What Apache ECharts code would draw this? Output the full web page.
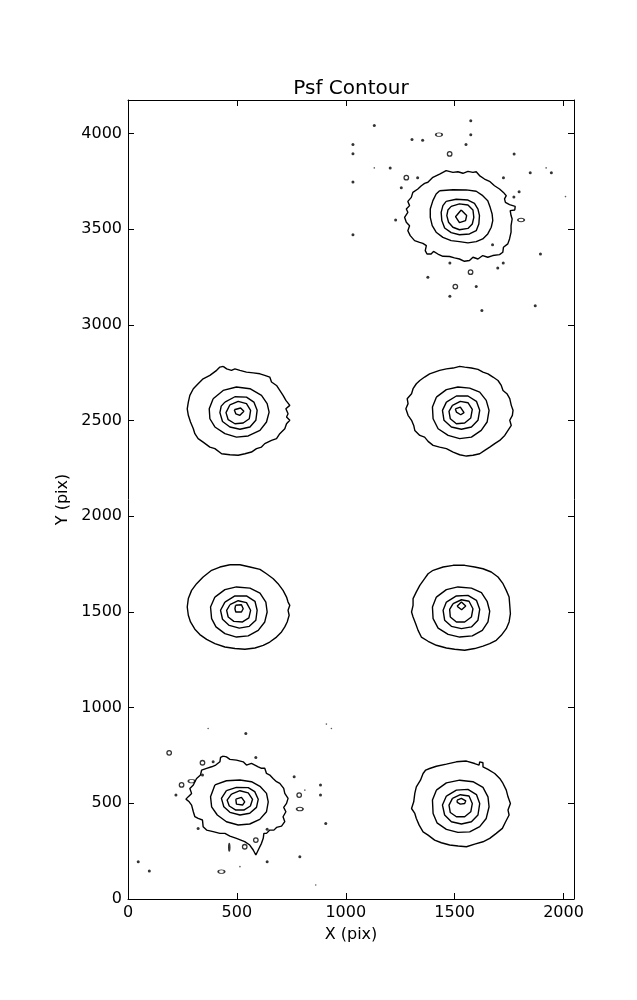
<!DOCTYPE html>
<html>
<head>
<meta charset="utf-8">
<script src="https://cdn.jsdelivr.net/npm/echarts@6/dist/echarts.min.js"></script>
<style>html,body{margin:0;padding:0;background:#fff}#chart{width:637px;height:1000px}</style>
</head>
<body>
<div id="chart"></div>
<script>
// ---- axis settings (data units) ----
const xTicks = [0, 500, 1000, 1500, 2000];
const yTicks = [0, 500, 1000, 1500, 2000, 2500, 3000, 3500, 4000];
const xMax = 2048;
const yMax = 4176;

// ---- PSF A (top right) contours, outer -> inner ----
const psfA_1 = [[1431,3789],[1461,3807],[1492,3798],[1515,3801],[1538,3793],[1561,3803],[1584,3798],[1599,3801],[1614,3781],[1637,3763],[1660,3751],[1683,3728],[1706,3711],[1724,3693],[1737,3676],[1729,3659],[1733,3641],[1752,3629],[1778,3620],[1776,3601],[1755,3598],[1759,3572],[1764,3554],[1759,3519],[1759,3485],[1752,3450],[1744,3424],[1724,3406],[1721,3380],[1706,3368],[1675,3363],[1652,3354],[1629,3363],[1607,3345],[1584,3354],[1568,3337],[1545,3333],[1522,3345],[1499,3351],[1477,3358],[1446,3359],[1423,3371],[1403,3385],[1392,3371],[1373,3371],[1365,3389],[1370,3415],[1354,3427],[1339,3432],[1316,3441],[1296,3467],[1285,3493],[1293,3519],[1278,3537],[1270,3563],[1285,3589],[1278,3606],[1293,3624],[1285,3646],[1301,3667],[1308,3693],[1331,3711],[1347,3728],[1362,3740],[1377,3746],[1400,3772]];
const psfA_2 = [[1431,3702],[1492,3707],[1553,3706],[1599,3699],[1629,3676],[1652,3650],[1663,3615],[1672,3580],[1675,3546],[1668,3511],[1652,3476],[1629,3450],[1599,3436],[1561,3429],[1522,3436],[1484,3441],[1446,3458],[1415,3485],[1397,3519],[1388,3563],[1388,3606],[1400,3650],[1415,3685]];
const psfA_3 = [[1461,3646],[1507,3657],[1561,3653],[1591,3636],[1607,3606],[1614,3572],[1611,3528],[1599,3493],[1568,3476],[1522,3472],[1484,3483],[1454,3507],[1441,3546],[1438,3589],[1446,3624]];
const psfA_4 = [[1484,3620],[1522,3633],[1561,3627],[1584,3601],[1588,3563],[1581,3528],[1561,3505],[1522,3498],[1492,3511],[1472,3537],[1464,3572],[1469,3601]];
const psfA_5 = [[1530,3601],[1555,3572],[1550,3546],[1522,3535],[1504,3566]];

// ---- PSF B (left, y~2550) ----
const psfB_1 = [[437,2784],[453,2771],[475,2763],[491,2771],[514,2763],[544,2754],[575,2750],[606,2745],[628,2737],[651,2728],[659,2702],[682,2684],[697,2658],[712,2632],[725,2606],[743,2580],[725,2562],[735,2536],[728,2519],[743,2502],[728,2484],[720,2458],[697,2432],[682,2406],[659,2397],[628,2380],[613,2362],[590,2354],[567,2336],[537,2327],[506,2319],[468,2322],[430,2327],[399,2354],[376,2362],[345,2388],[322,2406],[307,2432],[300,2458],[287,2493],[277,2528],[272,2562],[277,2597],[284,2632],[300,2667],[322,2693],[345,2719],[376,2737],[407,2763],[422,2780]];
const psfB_2 = [[391,2615],[437,2658],[498,2676],[560,2667],[613,2632],[639,2589],[648,2545],[636,2493],[606,2449],[552,2420],[498,2414],[445,2432],[399,2467],[376,2510],[373,2562]];
const psfB_3 = [[445,2597],[491,2625],[544,2623],[578,2597],[593,2554],[587,2502],[560,2467],[514,2455],[468,2467],[434,2496],[422,2542],[428,2576]];
const psfB_4 = [[468,2583],[506,2601],[544,2589],[563,2554],[557,2510],[529,2488],[491,2484],[460,2505],[450,2542]];
const psfB_5 = [[488,2557],[517,2566],[532,2549],[514,2528],[495,2536]];

// ---- PSF C (right, y~2550) ----
const psfC_1 = [[1362,2728],[1385,2745],[1408,2754],[1431,2763],[1462,2771],[1493,2775],[1523,2784],[1546,2780],[1577,2775],[1607,2768],[1630,2754],[1653,2745],[1676,2728],[1699,2710],[1714,2684],[1722,2658],[1740,2641],[1753,2615],[1760,2580],[1768,2554],[1765,2528],[1753,2502],[1760,2475],[1745,2449],[1730,2423],[1707,2397],[1684,2380],[1661,2362],[1638,2345],[1615,2327],[1584,2319],[1554,2315],[1523,2322],[1493,2336],[1462,2354],[1431,2362],[1401,2371],[1378,2392],[1362,2414],[1340,2423],[1317,2449],[1312,2475],[1302,2502],[1286,2528],[1276,2562],[1286,2589],[1282,2615],[1302,2641],[1309,2667],[1324,2693],[1340,2710]];
const psfC_2 = [[1416,2623],[1462,2662],[1515,2676],[1569,2670],[1615,2649],[1645,2606],[1658,2554],[1649,2493],[1622,2449],[1577,2414],[1523,2406],[1470,2423],[1424,2458],[1401,2510],[1398,2571]];
const psfC_3 = [[1462,2597],[1508,2629],[1561,2629],[1600,2601],[1615,2554],[1607,2502],[1577,2467],[1531,2455],[1485,2467],[1451,2502],[1444,2554]];
const psfC_4 = [[1490,2580],[1526,2601],[1561,2594],[1581,2559],[1574,2514],[1546,2488],[1508,2484],[1480,2510],[1474,2549]];
const psfC_5 = [[1503,2562],[1526,2571],[1543,2542],[1528,2531],[1508,2545]];

// ---- PSF D (left, y~1530) ----
const psfD_1 = [[468,1747],[514,1747],[560,1735],[606,1723],[636,1700],[667,1674],[689,1648],[712,1613],[728,1578],[735,1552],[743,1535],[735,1509],[740,1483],[731,1448],[720,1422],[705,1396],[682,1369],[651,1343],[621,1326],[583,1312],[537,1305],[491,1309],[445,1317],[399,1335],[361,1357],[330,1382],[307,1410],[287,1448],[277,1483],[272,1526],[277,1570],[292,1613],[315,1648],[345,1683],[384,1718],[422,1735]];
const psfD_2 = [[399,1578],[445,1617],[498,1631],[560,1625],[606,1599],[633,1552],[639,1500],[628,1448],[598,1404],[552,1375],[498,1369],[445,1387],[404,1422],[384,1465],[379,1526]];
const psfD_3 = [[445,1552],[491,1584],[544,1584],[583,1556],[593,1509],[587,1457],[557,1425],[511,1416],[465,1430],[434,1462],[425,1509]];
const psfD_4 = [[468,1538],[506,1559],[544,1549],[563,1509],[555,1469],[526,1448],[486,1451],[460,1474],[453,1509]];
const psfD_5 = [[494,1535],[521,1538],[529,1517],[521,1500],[495,1500],[491,1517]];

// ---- PSF E (right, y~1530) ----
const psfE_1 = [[1401,1718],[1447,1735],[1493,1744],[1546,1744],[1592,1735],[1630,1726],[1668,1709],[1699,1683],[1722,1648],[1737,1613],[1750,1578],[1753,1535],[1756,1491],[1750,1448],[1737,1413],[1714,1378],[1691,1352],[1661,1335],[1630,1322],[1592,1309],[1546,1300],[1500,1305],[1462,1312],[1416,1326],[1378,1347],[1347,1369],[1332,1404],[1321,1439],[1309,1474],[1302,1500],[1309,1535],[1309,1570],[1324,1605],[1340,1639],[1362,1674],[1378,1700]];
const psfE_2 = [[1416,1578],[1462,1617],[1515,1631],[1577,1625],[1623,1601],[1649,1556],[1661,1504],[1653,1448],[1627,1404],[1581,1375],[1523,1369],[1470,1383],[1424,1416],[1401,1465],[1398,1526]];
const psfE_3 = [[1462,1552],[1508,1584],[1561,1587],[1600,1561],[1615,1514],[1607,1457],[1577,1422],[1531,1413],[1485,1425],[1454,1457],[1447,1509]];
const psfE_4 = [[1493,1544],[1531,1564],[1566,1556],[1584,1517],[1577,1474],[1546,1448],[1508,1448],[1480,1474],[1477,1514]];
const psfE_5 = [[1511,1530],[1531,1552],[1551,1531],[1532,1512]];

// ---- PSF F (bottom left) ----
const psfF_1 = [[437,747],[452,743],[468,730],[498,726],[529,717],[544,700],[567,709],[598,691],[613,683],[628,683],[636,656],[651,648],[666,630],[682,613],[697,604],[715,578],[720,552],[735,526],[728,500],[715,479],[725,456],[712,430],[720,404],[705,381],[682,374],[670,360],[651,360],[636,343],[624,343],[621,317],[613,291],[602,265],[587,230],[575,256],[559,282],[536,300],[498,317],[468,329],[445,343],[422,343],[391,352],[361,360],[345,378],[342,413],[322,421],[307,430],[300,456],[292,491],[281,508],[266,522],[277,535],[292,552],[284,578],[300,596],[307,613],[315,630],[333,648],[338,674],[361,683],[384,691],[403,700],[422,717],[425,740]];
const psfF_2 = [[399,596],[452,618],[514,622],[567,613],[608,587],[636,552],[644,508],[636,456],[605,416],[559,392],[506,387],[452,404],[410,439],[384,482],[379,535]];
const psfF_3 = [[452,566],[498,583],[552,582],[582,561],[598,521],[590,479],[559,448],[514,439],[468,453],[440,482],[429,526]];
const psfF_4 = [[475,548],[514,566],[552,555],[572,521],[562,486],[532,465],[495,465],[465,486],[455,517]];
const psfF_5 = [[495,522],[521,531],[536,508],[526,491],[498,496]];

// ---- PSF G (bottom right) ----
const psfG_1 = [[1385,682],[1416,694],[1462,705],[1508,717],[1554,721],[1592,708],[1612,700],[1615,717],[1630,712],[1630,691],[1653,677],[1684,656],[1707,630],[1722,604],[1737,569],[1745,534],[1756,499],[1745,465],[1750,439],[1734,404],[1719,369],[1691,343],[1661,317],[1630,299],[1592,287],[1554,273],[1516,277],[1477,282],[1439,294],[1408,308],[1378,334],[1355,351],[1337,386],[1324,421],[1317,447],[1302,473],[1312,508],[1317,552],[1324,586],[1343,621],[1355,656],[1367,674]];
const psfG_2 = [[1416,569],[1462,607],[1523,621],[1584,613],[1630,583],[1653,534],[1658,482],[1645,421],[1615,378],[1569,351],[1515,348],[1462,364],[1419,398],[1401,447],[1398,517]];
const psfG_3 = [[1462,538],[1508,569],[1561,573],[1600,546],[1615,499],[1607,439],[1577,404],[1531,392],[1485,404],[1454,439],[1444,491]];
const psfG_4 = [[1490,526],[1526,545],[1566,538],[1581,499],[1574,456],[1546,430],[1508,430],[1480,452],[1474,491]];
const psfG_5 = [[1511,517],[1531,526],[1551,513],[1546,499],[1526,496],[1512,505]];

// ---- isolated noise specks ----
const speckDots = [[1131,4043],[1574,4068],[1574,3995],[1304,3969],[1353,3965],[1033,3944],[1552,3944],[1033,3895],[1773,3894],[1204,3821],[1944,3796],[1847,3796],[1033,3747],[1330,3770],[1724,3770],[1255,3718],[1796,3697],[1772,3669],[1229,3549],[1033,3472],[1674,3420],[1894,3371],[1478,3324],[1723,3324],[1698,3298],[1377,3250],[1599,3201],[1478,3150],[1870,3100],[1625,3076],
  [541,865],[391,717],[587,740],[342,648],[220,543],[763,639],[884,596],[884,543],[908,395],[322,369],[639,364],[47,195],[98,146],[639,195],[789,221]];
const speckTiny = [[1131,3821],[1920,3821],[2009,3671],[368,891],[911,914],[934,891],[812,569],[514,169],[862,73]];
const speckRings = [[1477,3894],[1278,3770],[1573,3276],[1503,3201],[189,764],[342,712],[246,596],[786,543],[587,308],[536,273]];
const speckOvals = [[1428,3995],[1805,3549],[292,616],[789,470],[429,143]];
const speckTall = [[465,270]];

const contours = [
  psfA_1, psfA_2, psfA_3, psfA_4, psfA_5,
  psfB_1, psfB_2, psfB_3, psfB_4, psfB_5,
  psfC_1, psfC_2, psfC_3, psfC_4, psfC_5,
  psfD_1, psfD_2, psfD_3, psfD_4, psfD_5,
  psfE_1, psfE_2, psfE_3, psfE_4, psfE_5,
  psfF_1, psfF_2, psfF_3, psfF_4, psfF_5,
  psfG_1, psfG_2, psfG_3, psfG_4, psfG_5
];

const FONT = 'DejaVu Sans';
const series = contours.map(pts => ({
  type: 'line',
  data: pts.concat([pts[0]]),
  showSymbol: false,
  symbol: 'none',
  silent: true,
  lineStyle: { color: '#000', width: 1.4 },
  animation: false
}));
const scatterBase = { type: 'scatter', silent: true, animation: false };
series.push(Object.assign({}, scatterBase, { data: speckDots, symbol: 'circle', symbolSize: 3, itemStyle: { color: '#000' } }));
series.push(Object.assign({}, scatterBase, { data: speckTiny, symbol: 'circle', symbolSize: 1.6, itemStyle: { color: '#333' } }));
series.push(Object.assign({}, scatterBase, { data: speckRings, symbol: 'circle', symbolSize: 4.5, itemStyle: { color: 'rgba(0,0,0,0)', borderColor: '#000', borderWidth: 1.3 } }));
series.push(Object.assign({}, scatterBase, { data: speckOvals, symbol: 'circle', symbolSize: [6.5, 3.5], itemStyle: { color: 'rgba(0,0,0,0)', borderColor: '#000', borderWidth: 1.3 } }));
series.push(Object.assign({}, scatterBase, { data: speckTall, symbol: 'circle', symbolSize: [2.5, 9], itemStyle: { color: '#000' } }));

const axisCommon = {
  type: 'value',
  axisLine: { show: true, onZero: false, lineStyle: { color: '#000', width: 1 } },
  axisTick: { show: true, inside: true, length: 6, lineStyle: { color: '#000', width: 1 } },
  splitLine: { show: false },
  nameTextStyle: { fontFamily: FONT, fontSize: 16, color: '#000' }
};
const labelCommon = { fontFamily: FONT, fontSize: 16, color: '#000' };

const chart = echarts.init(document.getElementById('chart'), null, { renderer: 'canvas' });
chart.setOption({
  backgroundColor: '#fff',
  animation: false,
  title: {
    text: 'Psf Contour',
    left: 346, top: 74, textAlign: 'center',
    textStyle: { fontFamily: FONT, fontSize: 20, fontWeight: 'normal', color: '#000' }
  },
  grid: { left: 128, right: 63, top: 100, bottom: 101, containLabel: false },
  xAxis: [
    Object.assign({}, axisCommon, {
      position: 'bottom', min: 0, max: xMax, interval: xTicks[1] - xTicks[0],
      name: 'X (pix)', nameLocation: 'middle', nameGap: 28,
      axisLabel: Object.assign({ margin: 6, showMaxLabel: false,
        formatter: v => xTicks.includes(v) ? String(v) : '' }, labelCommon)
    }),
    Object.assign({}, axisCommon, {
      position: 'top', min: 0, max: xMax, interval: xTicks[1] - xTicks[0],
      axisLabel: { show: false }
    })
  ],
  yAxis: [
    Object.assign({}, axisCommon, {
      position: 'left', min: 0, max: yMax, interval: yTicks[1] - yTicks[0],
      name: 'Y (pix)', nameLocation: 'middle', nameGap: 55, nameRotate: 90,
      axisLabel: Object.assign({ margin: 6, showMaxLabel: false,
        formatter: v => yTicks.includes(v) ? String(v) : '' }, labelCommon)
    }),
    Object.assign({}, axisCommon, {
      position: 'right', min: 0, max: yMax, interval: yTicks[1] - yTicks[0],
      axisLabel: { show: false }
    })
  ],
  series: series
});
</script>
</body>
</html>
